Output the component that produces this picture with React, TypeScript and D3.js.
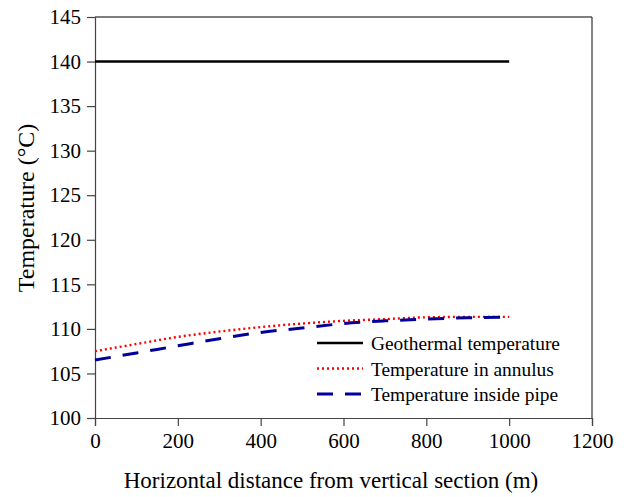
import React, { useEffect, useRef } from "react";
import * as d3 from "d3";

// distance along horizontal section (m)
const distance = [0, 100, 200, 300, 400, 500, 600, 700, 800, 900, 1000];
const geothermal = [140, 140, 140, 140, 140, 140, 140, 140, 140, 140, 140];
const annulus = [107.5, 108.3, 109.1, 109.7, 110.2, 110.6, 110.9, 111.1, 111.3, 111.35, 111.35];
const insidePipe = [106.5, 107.3, 108.1, 108.9, 109.6, 110.1, 110.6, 110.9, 111.1, 111.25, 111.3];

const xTicks = [0, 200, 400, 600, 800, 1000, 1200];
const yTicks = [100, 105, 110, 115, 120, 125, 130, 135, 140, 145];
const legendLabels = ["Geothermal temperature", "Temperature in annulus", "Temperature inside pipe"];

const App = () => {
  const svgRef = useRef<SVGSVGElement>(null);

  useEffect(() => {
    const w = 626;
    const h = 497;
    const m = { left: 95, right: 592, top: 17, bottom: 418 };
    const font = "'Liberation Serif', 'Times New Roman', serif";

    const svg = d3.select(svgRef.current).attr("width", w).attr("height", h);
    svg.selectAll("*").remove();

    const x = d3.scaleLinear().domain([0, 1200]).range([m.left, m.right]);
    const y = d3.scaleLinear().domain([100, 145]).range([m.bottom, m.top]);

    // frame: top & right
    svg.append("line").attr("x1", m.left).attr("x2", m.right).attr("y1", m.top).attr("y2", m.top)
      .attr("stroke", "#000").attr("stroke-width", 1.2);
    svg.append("line").attr("x1", m.right).attr("x2", m.right).attr("y1", m.top).attr("y2", m.bottom)
      .attr("stroke", "#333").attr("stroke-width", 1.2);

    // x axis
    const xAxis = svg.append("g").attr("transform", `translate(0,${m.bottom})`);
    xAxis.call(d3.axisBottom(x).tickValues(d3.range(100, 1200, 200)).tickSize(4).tickFormat(() => ""));
    xAxis.call(d3.axisBottom(x).tickValues(xTicks).tickSize(8).tickFormat(d3.format("d")));
    xAxis.selectAll("path, line").attr("stroke", "#444").attr("stroke-width", 1.2);
    xAxis.selectAll("text").attr("font-family", font).attr("font-size", 21).attr("fill", "#000")
      .attr("y", 30).attr("dy", null);

    // y axis
    const yAxis = svg.append("g").attr("transform", `translate(${m.left},0)`);
    yAxis.call(d3.axisLeft(y).tickValues(d3.range(102.5, 145, 5)).tickSize(4).tickFormat(() => ""));
    yAxis.call(d3.axisLeft(y).tickValues(yTicks).tickSize(8).tickFormat(d3.format("d")));
    yAxis.selectAll("path, line").attr("stroke", "#444").attr("stroke-width", 1.2);
    yAxis.selectAll("text").attr("font-family", font).attr("font-size", 21).attr("fill", "#000").attr("x", -14);

    const line = d3.line<number>().x((_, i) => x(distance[i])).y(d => y(d)).curve(d3.curveMonotoneX);

    const series = [
      { data: geothermal, color: "#000", width: 2.6, dash: null },
      { data: annulus, color: "#ff0000", width: 2.4, dash: "2,3" },
      { data: insidePipe, color: "#000099", width: 3, dash: "16,12" },
    ];

    series.forEach(s => {
      svg.append("path")
        .datum(s.data)
        .attr("fill", "none")
        .attr("stroke", s.color)
        .attr("stroke-width", s.width)
        .attr("stroke-dasharray", s.dash)
        .attr("d", line);
    });

    // legend
    const legend = svg.append("g");
    series.forEach((s, i) => {
      const ly = 343 + i * 25.5;
      legend.append("line")
        .attr("x1", 317).attr("x2", 363).attr("y1", ly).attr("y2", ly)
        .attr("stroke", s.color).attr("stroke-width", s.width)
        .attr("stroke-dasharray", s.dash);
      legend.append("text")
        .attr("x", 371).attr("y", ly + 7)
        .attr("font-family", font).attr("font-size", 19.4)
        .text(legendLabels[i]);
    });

    // axis titles
    svg.append("text")
      .attr("x", 331).attr("y", 488)
      .attr("text-anchor", "middle")
      .attr("font-family", font).attr("font-size", 23)
      .text("Horizontal distance from vertical section (m)");

    svg.append("text")
      .attr("transform", `translate(34,208) rotate(-90)`)
      .attr("text-anchor", "middle")
      .attr("font-family", font).attr("font-size", 24)
      .text("Temperature (\u00B0C)");
  }, []);

  return <svg ref={svgRef} style={{ position: "absolute", left: 0, top: 0 }} />;
};

export default App;
